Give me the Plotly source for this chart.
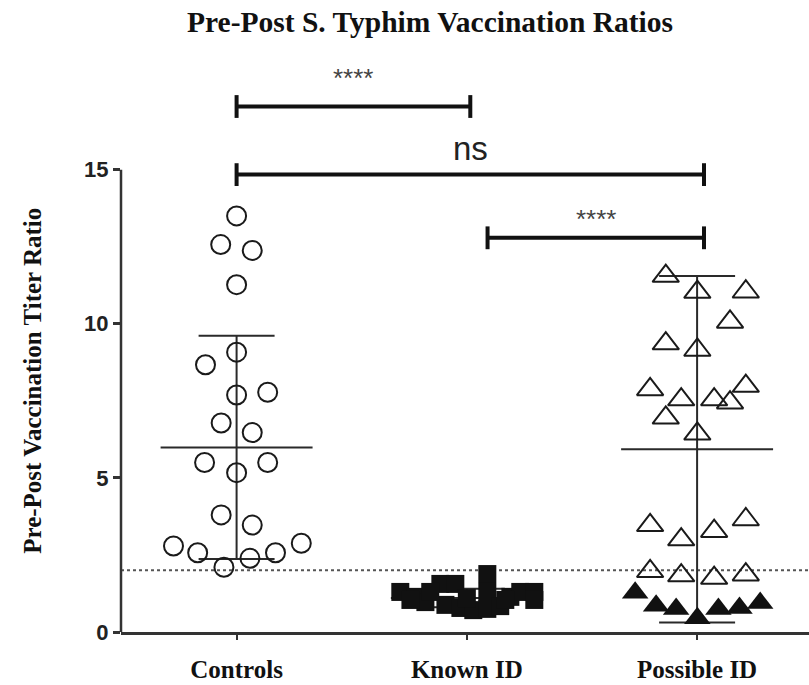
import plotly.graph_objects as go

# ---------------- data ----------------
categories = ["Controls", "Known ID", "Possible ID"]

controls_vals = [13.5, 12.57, 12.38, 11.27, 9.08, 8.67, 7.69, 7.78, 6.78, 6.47, 5.50,
                 5.50, 5.17, 3.80, 3.47, 2.79, 2.57, 2.10, 2.39, 2.57, 2.88]
controls_jit = [0, -0.069, 0.068, 0, 0, -0.135, 0, 0.135, -0.067, 0.068, -0.139,
                0.135, 0, -0.067, 0.068, -0.274, -0.169, -0.055, 0.058, 0.169, 0.281]

known_vals = [1.30, 1.14, 0.97, 1.56, 1.56, 0.88, 0.78, 0.71, 1.10, 1.88,
              1.30, 0.75, 0.84, 1.14, 1.30, 1.30, 1.04, 1.04, 1.30, 1.04]
known_jit = [-0.289, -0.224, -0.180, -0.115, -0.050, -0.093, -0.028, 0.028, 0, 0.089,
             0.089, 0.089, 0.145, 0.189, 0.232, 0.293, 0.293, -0.245, -0.159, 0.167]

possible_open_vals = [11.55, 11.03, 11.04, 10.06, 9.36, 9.15, 7.87, 7.54, 7.98, 7.54,
                      7.44, 6.95, 6.43, 3.46, 3.65, 3.27, 3.00, 1.97, 1.83, 1.75, 1.86]
possible_open_jit = [-0.136, 0.001, 0.2115, 0.143, -0.136, 0.001, -0.204, -0.069, 0.2115, 0.074,
                     0.143, -0.136, 0.001, -0.204, 0.2115, 0.074, -0.069, -0.204, -0.069, 0.074, 0.2115]
possible_filled_vals = [1.27, 0.85, 0.75, 0.45, 0.75, 0.78, 0.94]
possible_filled_jit = [-0.269, -0.178, -0.091, 0.001, 0.0925, 0.184, 0.274]

group_means = [5.99, 1.10, 5.93]
group_sds = [3.62, 0.30, 5.62]

threshold = 2.0

# significance brackets: (x start, x end, y, label, label gap in px)
brackets_x0 = [0.0, 0.0, 1.09]
brackets_x1 = [1.015, 2.03, 2.03]
brackets_y = [17.05, 14.84, 12.79]
brackets_label = ["****", "ns", "****"]
brackets_gap = [12, 6, 2]

y_ticks = [0, 5, 10, 15]

# ---------------- figure ----------------
INK = "#1a1a1a"
fig = go.Figure()

# mean +/- SD lines
for gi, (m, s) in enumerate(zip(group_means, group_sds)):
    xs = [gi - 0.33, gi + 0.33, None, gi, gi, None,
          gi - 0.165, gi + 0.165, None, gi - 0.165, gi + 0.165]
    ys = [m, m, None, m - s, m + s, None, m + s, m + s, None, m - s, m - s]
    fig.add_trace(go.Scatter(x=xs, y=ys, mode="lines",
                             line=dict(color="#2a2a2a", width=2),
                             hoverinfo="skip", showlegend=False))

fig.add_trace(go.Scatter(
    x=[0 + j for j in controls_jit], y=controls_vals, mode="markers",
    marker=dict(symbol="circle-open", size=19, color=INK, line=dict(width=2, color=INK)),
    showlegend=False))

fig.add_trace(go.Scatter(
    x=[1 + j for j in known_jit], y=known_vals, mode="markers",
    marker=dict(symbol="square", size=18, color="#111111", line=dict(width=0)),
    showlegend=False))

fig.add_trace(go.Scatter(
    x=[2 + j for j in possible_open_jit], y=possible_open_vals, mode="markers",
    marker=dict(symbol="triangle-up-open", size=23, color=INK, line=dict(width=2, color=INK)),
    showlegend=False))

fig.add_trace(go.Scatter(
    x=[2 + j for j in possible_filled_jit], y=possible_filled_vals, mode="markers",
    marker=dict(symbol="triangle-up", size=23, color="#111111", line=dict(width=0)),
    showlegend=False))

# threshold dotted line
fig.add_shape(type="line", xref="paper", yref="y", x0=0, x1=1, y0=threshold, y1=threshold,
              line=dict(color="#555555", width=2, dash="dot"), layer="below")

# y axis line (only up to 15)
fig.add_shape(type="line", xref="paper", yref="y", x0=0, x1=0, y0=0, y1=15,
              line=dict(color="#333333", width=2.5))

# brackets
for x0, x1, yb, lab, gap in zip(brackets_x0, brackets_x1, brackets_y, brackets_label, brackets_gap):
    fig.add_shape(type="line", xref="x", yref="y", x0=x0, x1=x1, y0=yb, y1=yb,
                  line=dict(color="#111111", width=4))
    for xc in (x0, x1):
        fig.add_shape(type="line", xref="x", yref="y", x0=xc, x1=xc, y0=yb - 0.37, y1=yb + 0.37,
                      line=dict(color="#111111", width=4))
    if lab == "ns":
        fnt = dict(family="Liberation Sans", size=33, color="#222222")
    else:
        fnt = dict(family="Liberation Sans", size=26, color="#444444")
    fig.add_annotation(x=(x0 + x1) / 2, y=yb, xref="x", yref="y", text=lab,
                       showarrow=False, yanchor="bottom", yshift=gap, font=fnt)

# y axis title
fig.add_annotation(x=-0.128, y=8.15, xref="paper", yref="y",
                   text="<b>Pre-Post Vaccination Titer Ratio</b>", textangle=-90,
                   showarrow=False, xanchor="center", yanchor="middle",
                   font=dict(family="Liberation Serif", size=25, color="#111111"))

fig.update_layout(
    width=809, height=685,
    margin=dict(l=121, r=0, t=31, b=53, autoexpand=False),
    paper_bgcolor="white", plot_bgcolor="white",
    title=dict(text="<b>Pre-Post S. Typhim Vaccination Ratios</b>",
               x=430 / 809, xref="container", xanchor="center",
               y=1 - 22 / 685, yref="container", yanchor="middle",
               font=dict(family="Liberation Serif", size=29.5, color="#111111")),
    xaxis=dict(range=[-0.502, 2.486], tickvals=[0, 1, 2], ticktext=categories,
               showline=True, linecolor="#333333", linewidth=2.5,
               ticks="outside", ticklen=5, tickwidth=2, tickcolor="#333333",
               showgrid=False, zeroline=False, ticklabelstandoff=8, automargin=False,
               tickfont=dict(family="Liberation Serif", size=25, color="#111111", weight="bold")),
    yaxis=dict(range=[0, 19.5], tickvals=y_ticks, showline=False, automargin=False,
               ticks="outside", ticklen=7, tickwidth=2.5, tickcolor="#333333",
               showgrid=False, zeroline=False,
               tickfont=dict(family="Liberation Sans", size=22, color="#222222", weight="bold")),
)

fig.write_html("out.html")
